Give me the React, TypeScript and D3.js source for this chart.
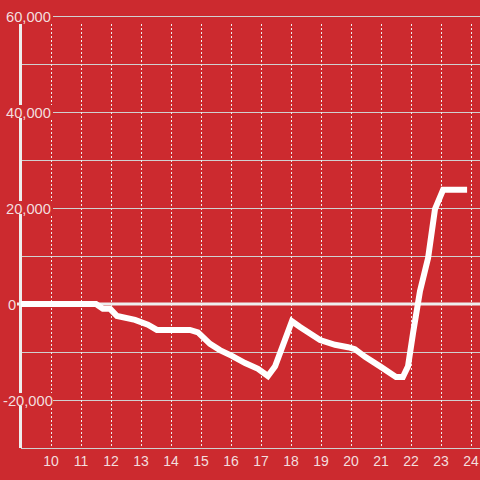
import React from "react";
import * as d3 from "d3";

const hours = [9, 11.5, 11.73, 11.97, 12.2, 12.8, 13.23, 13.53, 14.63, 14.9, 15.3, 15.63, 16.03, 16.47, 16.9, 17.23, 17.47, 18.03, 18.3, 18.97, 19.47, 19.9, 20.13, 20.47, 20.97, 21.5, 21.73, 21.9, 22.07, 22.3, 22.57, 22.8, 23.07, 23.87];
const values = [0, 0, -1000, -1000, -2500, -3300, -4300, -5400, -5400, -5900, -8300, -9600, -10800, -12300, -13500, -15000, -13000, -3600, -4800, -7500, -8500, -9000, -9400, -11000, -13000, -15200, -15200, -13000, -6000, 2700, 9600, 19800, 23800, 23800];
const xTicks = [10, 11, 12, 13, 14, 15, 16, 17, 18, 19, 20, 21, 22, 23, 24];
const yLabelTicks = [60000, 40000, 20000, 0, -20000];
const yGridTicks = [60000, 50000, 40000, 30000, 20000, 10000, -10000, -20000, -30000];

const W = 480, H = 480;
const BG = "#cc2a2f";
const TXT = "#f3dede";
const FONT = "'Liberation Sans', Arial, sans-serif";

export default function App() {
  const x = d3.scaleLinear().domain([9, 24]).range([21, 471]);
  const y = d3.scaleLinear().domain([-30000, 60000]).range([448, 16]);
  const line = d3.line<number>().x((_, i) => x(hours[i])).y((d) => y(d));
  const fmt = (t: number) => (t < 0 ? "-" : "") + d3.format(",")(Math.abs(t));
  return (
    <svg width={W} height={H} style={{ position: "absolute", left: 0, top: 0, background: BG }}>
      <rect x={0} y={0} width={W} height={H} fill={BG} />
      {yGridTicks.map((t) => (
        <line key={"g" + t} x1={21} x2={W} y1={y(t) + 0.5} y2={y(t) + 0.5} stroke="#d0d0d0" strokeWidth={1} />
      ))}
      {xTicks.map((t) => (
        <line key={"v" + t} x1={x(t) + 0.5} x2={x(t) + 0.5} y1={24} y2={446} stroke="#eeeeee" strokeWidth={1} strokeDasharray="2,2" />
      ))}
      <line x1={20.5} x2={20.5} y1={24} y2={448} stroke="#eeeeee" strokeWidth={3} />
      <line x1={17} x2={W} y1={y(0)} y2={y(0)} stroke="#eeeeee" strokeWidth={3} />
      {yLabelTicks.map((t) => {
        const label = fmt(t);
        const x0 = t === 0 ? 8 : t < 0 ? 3 : 6;
        const right = t === 0 ? 16 : 53;
        return (
          <g key={"yl" + t}>
            <rect x={x0 - 1} y={y(t) - 7} width={right - x0 + 1} height={13} fill={BG} />
            <text x={x0} y={y(t) + 1} dy="0.35em" textAnchor="start" fontSize={14.7} fontFamily={FONT} fill={TXT}>
              {label}
            </text>
          </g>
        );
      })}
      {xTicks.map((t) => (
        <text key={"xl" + t} x={x(t)} y={461} dy="0.35em" textAnchor="middle" fontSize={14} fontFamily={FONT} fill={TXT}>
          {t}
        </text>
      ))}
      <path d={line(values) || ""} fill="none" stroke="#ffffff" strokeWidth={6} strokeLinejoin="miter" />
    </svg>
  );
}
